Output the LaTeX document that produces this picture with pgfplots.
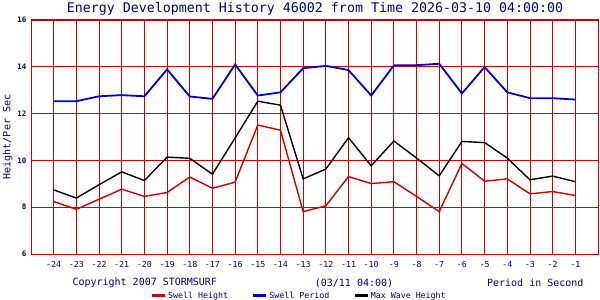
\documentclass[border=0pt]{standalone}
\usepackage{pgfplots}
\pgfplotsset{compat=1.18}
\usepackage{fontspec}
\setmainfont{DejaVu Sans Mono}
\definecolor{gridred}{HTML}{CC0000}
\definecolor{navy}{HTML}{000080}
\definecolor{sblue}{HTML}{0000CC}
\definecolor{sred}{HTML}{CC0000}
\begin{document}
\begin{tikzpicture}[x=1pt,y=1pt]
\path[use as bounding box] (0,0) rectangle (600,300);
\begin{axis}[
  at={(31pt,46pt)}, anchor=south west,
  scale only axis, width=567pt, height=234pt,
  xmin=-25, xmax=0, ymin=6, ymax=16,
  xtick={-24,-23,...,-1}, ytick={6,8,...,16},
  grid=major, major grid style={gridred, line width=0.9pt},
  axis line style={gridred, line width=1pt},
  major tick length=0pt,
  /pgf/number format/assume math mode=true,
  xticklabel style={font=\fontsize{8.3}{9}\selectfont, text=navy, yshift=-4pt},
  yticklabel style={font=\fontsize{7.5}{8}\selectfont\bfseries, text=navy, xshift=-1pt},
  ylabel={Height/Per Sec},
  ylabel style={font=\fontsize{10}{12}\selectfont, text=navy, at={(axis description cs:-0.041,0.5)}, anchor=center},
  legend style={at={(axis description cs:0.473,-0.178)}, anchor=center, draw=none, fill=none,
    font=\fontsize{8.3}{9}\selectfont, text=navy, legend columns=3,
    /tikz/every even column/.append style={column sep=22pt}, inner sep=0pt},
  legend image code/.code={\draw[#1, line width=2.4pt] (0pt,0pt) -- (13pt,0pt);},
  legend cell align=left,
  clip=false,
]
\addplot[sred, line width=1.4pt] coordinates {
(-24,8.24) (-23,7.91) (-22,8.34) (-21,8.77) (-20,8.46) (-19,8.63) (-18,9.29) (-17,8.81)
(-16,9.07) (-15,11.51) (-14,11.29) (-13,7.81) (-12,8.06) (-11,9.31) (-10,9.01) (-9,9.09)
(-8,8.46) (-7,7.81) (-6,9.87) (-5,9.11) (-4,9.21) (-3,8.57) (-2,8.67) (-1,8.50)};
\addlegendentry{Swell Height}
\addplot[sblue, line width=1.8pt] coordinates {
(-24,12.53) (-23,12.53) (-22,12.74) (-21,12.79) (-20,12.74) (-19,13.89) (-18,12.73) (-17,12.63)
(-16,14.10) (-15,12.77) (-14,12.91) (-13,13.94) (-12,14.04) (-11,13.86) (-10,12.77) (-9,14.06)
(-8,14.07) (-7,14.13) (-6,12.86) (-5,13.99) (-4,12.91) (-3,12.66) (-2,12.66) (-1,12.60)};
\addlegendentry{Swell Period}
\addplot[black, line width=1.4pt] coordinates {
(-24,8.74) (-23,8.39) (-22,8.96) (-21,9.51) (-20,9.14) (-19,10.14) (-18,10.09) (-17,9.41)
(-16,10.96) (-15,12.53) (-14,12.36) (-13,9.21) (-12,9.63) (-11,10.97) (-10,9.77) (-9,10.83)
(-8,10.10) (-7,9.34) (-6,10.81) (-5,10.76) (-4,10.10) (-3,9.17) (-2,9.33) (-1,9.09)};
\addlegendentry{Max Wave Height}
\end{axis}
\node[text=navy, font=\fontsize{13.3}{15}\selectfont] at (315,291.5) {Energy Development History 46002 from Time 2026-03-10 04:00:00};
\node[text=navy, font=\fontsize{10}{12}\selectfont, anchor=west] at (69,17) {Copyright 2007 STORMSURF};
\node[text=navy, font=\fontsize{10}{12}\selectfont] at (354,17) {(03/11 04:00)};
\node[text=navy, font=\fontsize{10}{12}\selectfont, anchor=east] at (587,17) {Period in Second};
\end{tikzpicture}
\end{document}
